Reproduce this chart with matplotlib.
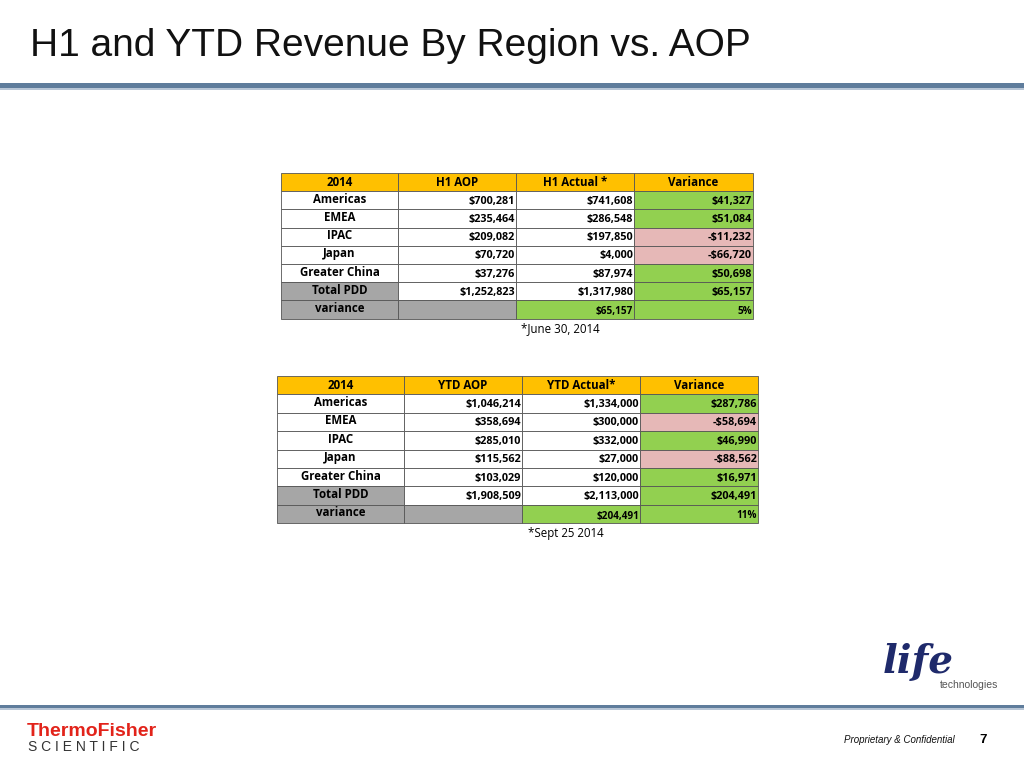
import matplotlib.pyplot as plt
from matplotlib.patches import Rectangle

regions = ['Americas', 'EMEA', 'IPAC', 'Japan', 'Greater China', 'Total PDD']
h1_aop = [700281, 235464, 209082, 70720, 37276, 1252823]
h1_actual = [741608, 286548, 197850, 4000, 87974, 1317980]
h1_var_pct = '5%'
ytd_aop = [1046214, 358694, 285010, 115562, 103029, 1908509]
ytd_actual = [1334000, 300000, 332000, 27000, 120000, 2113000]
ytd_var_pct = '11%'

GOLD = '#FFC000'
GREEN = '#92D050'
PINK = '#E6B8B7'
GRAY = '#A6A6A6'
FONT = 'Open Sans'


def money(v):
    return ('-$' if v < 0 else '$') + f'{abs(v):,}'


def draw_table(ax, cols, top, rh, headers, aop, actual, pct, note):
    var = [b - a for a, b in zip(aop, actual)]
    # header
    for i in range(4):
        x0, x1 = cols[i], cols[i + 1]
        ax.add_patch(Rectangle((x0, top), x1 - x0, rh, fc=GOLD, ec='#555', lw=0.6))
        ax.text((x0 + x1) / 2, top + rh / 2, headers[i], ha='center', va='center',
                fontsize=8.3, fontweight='bold', family=FONT)
    for r in range(len(regions)):
        y = top + rh * (r + 1)
        label_fc = GRAY if r == len(regions) - 1 else 'white'
        fcs = [label_fc, 'white', 'white', GREEN if var[r] >= 0 else PINK]
        vals = [regions[r], money(aop[r]), money(actual[r]), money(var[r])]
        for i in range(4):
            x0, x1 = cols[i], cols[i + 1]
            ax.add_patch(Rectangle((x0, y), x1 - x0, rh, fc=fcs[i], ec='#555', lw=0.6))
            if i == 0:
                ax.text((x0 + x1) / 2, y + rh / 2 - 1, vals[i], ha='center', va='center',
                        fontsize=8.3, fontweight='bold', family=FONT)
            else:
                ax.text(x1 - 1, y + rh / 2 + 1, vals[i], ha='right', va='center',
                        fontsize=7.8, fontweight='bold', family=FONT)
    # variance row
    y = top + rh * (len(regions) + 1)
    fcs = [GRAY, GRAY, GREEN, GREEN]
    vals = ['variance', '', money(var[-1]), pct]
    for i in range(4):
        x0, x1 = cols[i], cols[i + 1]
        ax.add_patch(Rectangle((x0, y), x1 - x0, rh, fc=fcs[i], ec='#555', lw=0.6))
        if i == 0:
            ax.text((x0 + x1) / 2, y + rh / 2 - 1, vals[i], ha='center', va='center',
                    fontsize=8.3, fontweight='bold', family=FONT)
        elif vals[i]:
            ax.text(x1 - 1, y + rh / 2 + 2, vals[i], ha='right', va='center',
                    fontsize=7.2, fontweight='bold', family=FONT)
    ax.text(cols[2] + 44, y + rh + 10, note, ha='center', va='center', fontsize=8.3, family=FONT)


fig = plt.figure(figsize=(10.24, 7.68), dpi=100)
ax = fig.add_axes([0, 0, 1, 1])
ax.set_xlim(0, 1024)
ax.set_ylim(768, 0)
ax.axis('off')

ax.text(30, 46, 'H1 and YTD Revenue By Region vs. AOP', fontsize=28, va='center',
        family='Liberation Sans', color='#111')
ax.add_patch(Rectangle((0, 83), 1024, 5, fc='#5F7D9C', ec='none'))
ax.add_patch(Rectangle((0, 88), 1024, 1.5, fc='#B8C6D6', ec='none'))
ax.add_patch(Rectangle((0, 705), 1024, 3, fc='#5F7D9C', ec='none'))
ax.add_patch(Rectangle((0, 708), 1024, 1.5, fc='#B8C6D6', ec='none'))

draw_table(ax, [281, 398, 516, 634, 753], 173, 18.2,
           ['2014', 'H1 AOP', 'H1 Actual *', 'Variance'], h1_aop, h1_actual, h1_var_pct, '*June 30, 2014')
draw_table(ax, [277, 404, 522, 640, 758], 376, 18.4,
           ['2014', 'YTD AOP', 'YTD Actual*', 'Variance'], ytd_aop, ytd_actual, ytd_var_pct, '*Sept 25 2014')

# logos as text
ax.text(27, 731, 'ThermoFisher', fontsize=14, fontweight='bold', color='#E2231A',
        family='Liberation Sans', va='center')
ax.text(28, 747, 'S C I E N T I F I C', fontsize=10, color='#333', family='Liberation Sans', va='center')
ax.text(918, 662, 'life', fontsize=28, style='italic', fontweight='bold', color='#1F2A6B',
        family='DejaVu Serif', ha='center', va='center')
ax.text(998, 685, 'technologies', fontsize=7.5, color='#555', family='Liberation Sans',
        ha='right', va='center')
ax.text(955, 740, 'Proprietary & Confidential', fontsize=7, style='italic', color='#111',
        family='Liberation Sans', ha='right', va='center')
ax.text(983, 740, '7', fontsize=9.5, fontweight='bold', family='Liberation Sans', ha='center', va='center')

fig.savefig('out.png', dpi=100)
